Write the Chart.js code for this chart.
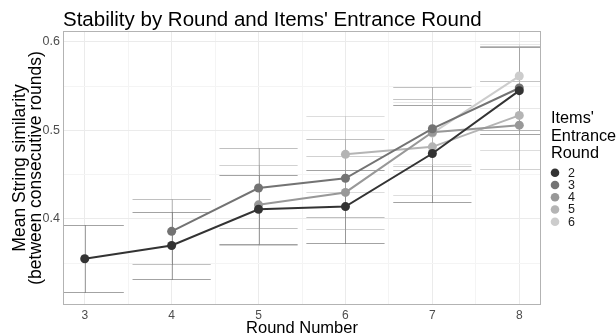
<!DOCTYPE html>
<html>
<head>
<meta charset="utf-8">
<script src="https://cdn.jsdelivr.net/npm/chart.js@4.4.1/dist/chart.umd.min.js"></script>
<style>
  html, body { margin: 0; padding: 0; background: #fff; overflow: hidden; }
  #wrap { width: 616px; height: 333px; }
</style>
</head>
<body>
<div id="wrap"><canvas id="chart" width="616" height="333"></canvas></div>
<script>
// rondas en el eje x y grupos por ronda de entrada
const rounds = [3, 4, 5, 6, 7, 8];
const entranceRounds = ["2", "3", "4", "5", "6"];

// medias por grupo (null = sin dato en esa ronda)
const mean2 = [0.355, 0.370, 0.411, 0.414, 0.474, 0.545];
const mean3 = [null, 0.386, 0.435, 0.446, 0.502, 0.548];
const mean4 = [null, null, 0.416, 0.430, 0.498, 0.506];
const mean5 = [null, null, null, 0.473, 0.4815, 0.517];
const mean6 = [null, null, null, null, 0.497, 0.5615];

// semiamplitud de las barras de error
const err2 = [0.038, 0.038, 0.039, 0.0415, 0.055, 0.049];
const err3 = [null, 0.037, 0.045, 0.044, 0.047, 0.047];
const err4 = [null, null, 0.045, 0.041, 0.038, 0.050];
const err5 = [null, null, null, 0.043, 0.054, 0.039];
const err6 = [null, null, null, null, 0.035, 0.036];

// ticks / grid
const xGrid = [3, 3.5, 4, 4.5, 5, 5.5, 6, 6.5, 7, 7.5, 8];
const yGrid = [0.35, 0.4, 0.45, 0.5, 0.55, 0.6];
const yLabels = [0.4, 0.5, 0.6];

const means = [mean2, mean3, mean4, mean5, mean6];
const errs = [err2, err3, err4, err5, err6];
const colors = ["#333333", "#737373", "#989898", "#b4b4b4", "#cccccc"];

const FONT = "'Liberation Sans', Arial, Helvetica, sans-serif";
Chart.defaults.font.family = FONT;

function rgba(hex, a) {
  const n = parseInt(hex.slice(1), 16);
  return `rgba(${(n >> 16) & 255},${(n >> 8) & 255},${n & 255},${a})`;
}

// barras de error (geom_errorbar) dibujadas con las escalas del chart
const errorBars = {
  id: "errorBars",
  beforeDatasetsDraw(chart) {
    const { ctx, chartArea: a, scales: { x, y } } = chart;
    ctx.save();
    ctx.beginPath();
    ctx.rect(a.left, a.top, a.right - a.left, a.bottom - a.top);
    ctx.clip();
    ctx.lineWidth = 1;
    means.forEach((m, s) => {
      ctx.strokeStyle = rgba(colors[s], 0.45);
      rounds.forEach((r, i) => {
        if (m[i] == null) return;
        const hi = Math.round(y.getPixelForValue(m[i] + errs[s][i])) + 0.5;
        const lo = Math.round(y.getPixelForValue(m[i] - errs[s][i])) + 0.5;
        const xc = Math.round(x.getPixelForValue(r)) + 0.5;
        const x0 = x.getPixelForValue(r - 0.45);
        const x1 = x.getPixelForValue(r + 0.45);
        ctx.beginPath();
        ctx.moveTo(x0, hi); ctx.lineTo(x1, hi);
        ctx.moveTo(x0, lo); ctx.lineTo(x1, lo);
        ctx.moveTo(xc, hi); ctx.lineTo(xc, lo);
        ctx.stroke();
      });
    });
    ctx.restore();
  },
  afterDatasetsDraw(chart) {
    const { ctx, chartArea: a } = chart;
    ctx.save();
    ctx.strokeStyle = "#b3b3b3";
    ctx.lineWidth = 1;
    ctx.strokeRect(Math.round(a.left) + 0.5, Math.round(a.top) + 0.5,
      Math.round(a.right - a.left) - 1, Math.round(a.bottom - a.top) - 1);
    ctx.restore();
  }
};

// leyenda a la derecha, como ggplot
const sideLegend = {
  id: "sideLegend",
  afterDraw(chart) {
    const { ctx } = chart;
    ctx.save();
    ctx.fillStyle = "#000";
    ctx.font = `16.3px ${FONT}`;
    ctx.textBaseline = "alphabetic";
    ctx.textAlign = "left";
    ["Items'", "Entrance", "Round"].forEach((t, i) => ctx.fillText(t, 551, 123.3 + i * 17.5));
    ctx.font = `12.5px ${FONT}`;
    ctx.textBaseline = "middle";
    entranceRounds.forEach((lab, i) => {
      const yy = 172.7 + i * 12.25;
      ctx.fillStyle = colors[i];
      ctx.beginPath();
      ctx.arc(555, yy, 4.3, 0, Math.PI * 2);
      ctx.fill();
      ctx.fillStyle = "#1a1a1a";
      ctx.fillText(lab, 568, yy + 0.5);
    });
    ctx.restore();
  }
};

const datasets = entranceRounds.map((lab, s) => ({
  label: lab,
  data: rounds.map((r, i) => ({ x: r, y: means[s][i] })).filter(p => p.y != null),
  borderColor: colors[s],
  backgroundColor: colors[s],
  borderWidth: 2,
  pointRadius: 4.5,
  pointBorderWidth: 0,
  pointHoverRadius: 4.5,
  tension: 0,
  order: s
}));

new Chart(document.getElementById("chart"), {
  type: "line",
  data: { datasets },
  options: {
    responsive: false,
    animation: false,
    devicePixelRatio: 1,
    events: [],
    layout: { padding: { left: 0, right: 75, top: 0, bottom: 0 } },
    plugins: {
      legend: { display: false },
      tooltip: { enabled: false },
      title: {
        display: true,
        text: "Stability by Round and Items' Entrance Round",
        align: "start",
        fullSize: false,
        color: "#000",
        font: { size: 20.5, weight: "normal", lineHeight: 1 },
        padding: { top: 10.5, bottom: 0 }
      }
    },
    scales: {
      x: {
        type: "linear",
        min: 2.75,
        max: 8.25,
        afterBuildTicks: s => { s.ticks = xGrid.map(v => ({ value: v })); },
        afterFit: s => { s.height = 28; },
        ticks: {
          autoSkip: false,
          maxRotation: 0,
          padding: 3,
          color: "#4d4d4d",
          font: { size: 12 },
          callback: v => Number.isInteger(v) ? String(v) : ""
        },
        grid: {
          drawTicks: false,
          lineWidth: 1,
          color: c => Number.isInteger(c.tick?.value) ? "#ebebeb" : "#f4f4f4"
        },
        border: { display: false },
        title: {
          display: true,
          text: "Round Number",
          color: "#000",
          font: { size: 16.5, lineHeight: 1 },
          padding: { top: 0, bottom: -4 }
        }
      },
      y: {
        min: 0.3028,
        max: 0.6124,
        afterBuildTicks: s => { s.ticks = yGrid.map(v => ({ value: v })); },
        afterFit: s => { s.width = 63; },
        ticks: {
          padding: 3,
          color: "#4d4d4d",
          font: { size: 12.5 },
          callback: v => yLabels.some(l => Math.abs(l - v) < 1e-6) ? v.toFixed(1) : ""
        },
        grid: {
          drawTicks: false,
          lineWidth: 1,
          color: c => yLabels.some(l => Math.abs(l - c.tick?.value) < 1e-6) ? "#ebebeb" : "#f4f4f4"
        },
        border: { display: false },
        title: {
          display: true,
          text: ["Mean String similarity", "(between consecutive rounds)"],
          color: "#000",
          font: { size: 17.5, lineHeight: 0.92 },
          padding: { top: 12, bottom: 0 }
        }
      }
    }
  },
  plugins: [errorBars, sideLegend]
});
</script>
</body>
</html>
